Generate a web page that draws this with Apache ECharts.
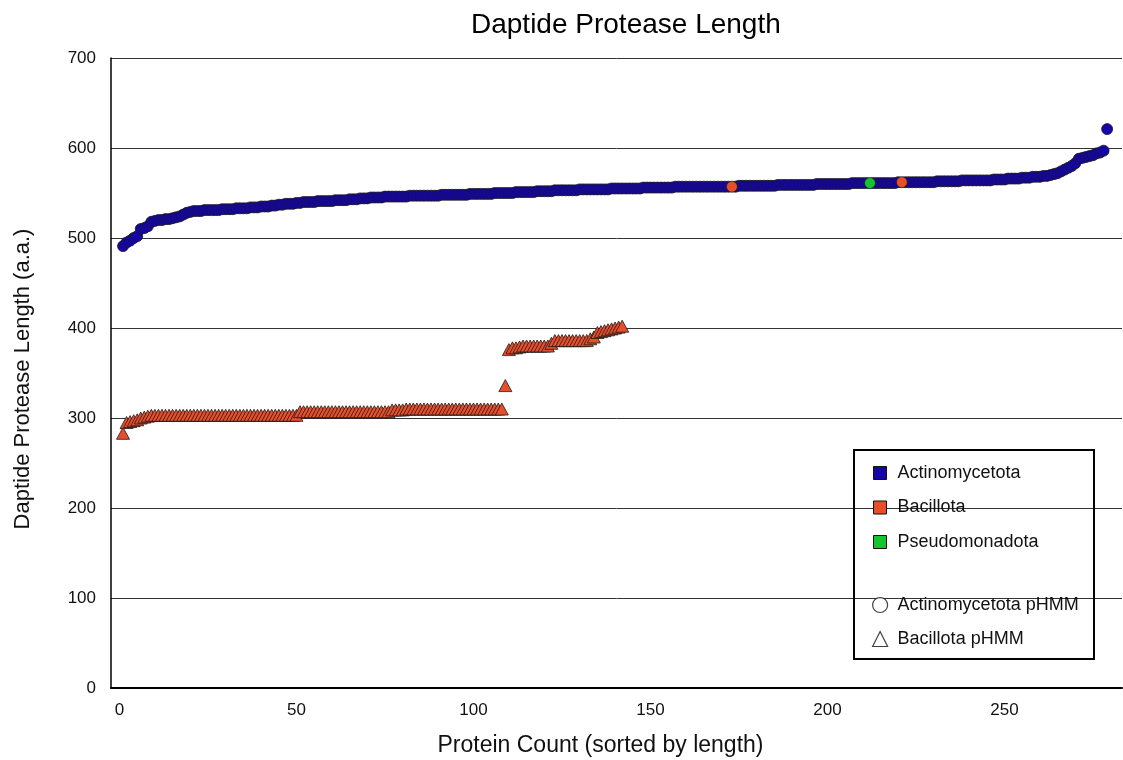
<!DOCTYPE html>
<html>
<head>
<meta charset="utf-8">
<script src="https://cdn.jsdelivr.net/npm/echarts@6/dist/echarts.min.js"></script>
<style>
  html, body { margin: 0; padding: 0; background: #fff; }
  #chart { width: 1123px; height: 760px; }
</style>
</head>
<body>
<div id="chart"></div>
<script>
// circle markers (Actinomycetota pHMM hits), sorted by length, rank 1..279
const circleLengths = [
  491, 495, 497, 500, 502, 510, 511, 513, 518, 519, 520,
  520, 521, 521, 522, 523, 524, 526, 528, 529,
  530, 530, 530, 531, 531, 531, 531, 531, 532, 532,
  532, 532, 533, 533, 533, 533, 534, 534, 534, 535,
  535, 535, 536, 536, 537, 537, 538, 538, 538, 539,
  539, 540, 540, 540, 540, 541, 541, 541, 541, 541,
  542, 542, 542, 542, 543, 543, 543, 544, 544, 544,
  545, 545, 545, 545, 546, 546, 546, 546, 546, 546,
  546, 547, 547, 547, 547, 547, 547, 547, 547, 547,
  548, 548, 548, 548, 548, 548, 548, 548, 549, 549,
  549, 549, 549, 549, 549, 550, 550, 550, 550, 550,
  550, 551, 551, 551, 551, 551, 551, 552, 552, 552,
  552, 552, 553, 553, 553, 553, 553, 553, 553, 554,
  554, 554, 554, 554, 554, 554, 554, 554, 555, 555,
  555, 555, 555, 555, 555, 555, 555, 556, 556, 556,
  556, 556, 556, 556, 556, 556, 557, 557, 557, 557,
  557, 557, 557, 557, 557, 557, 557, 557, 557, 557,
  557, 557, 557, 557, 558, 558, 558, 558, 558, 558,
  558, 558, 558, 558, 558, 559, 559, 559, 559, 559,
  559, 559, 559, 559, 559, 559, 560, 560, 560, 560,
  560, 560, 560, 560, 560, 560, 561, 561, 561, 561,
  561, 561, 561, 561, 561, 561, 561, 561, 561, 562,
  562, 562, 562, 562, 562, 562, 562, 562, 562, 562,
  563, 563, 563, 563, 563, 563, 563, 564, 564, 564,
  564, 564, 564, 564, 564, 564, 565, 565, 565, 565,
  566, 566, 566, 566, 567, 567, 567, 568, 568, 568,
  569, 569, 570, 571, 572, 574, 576, 578, 580, 583,
  588, 589, 590, 591, 592, 594, 595, 597, 621
]
// ranks in the circle list that are not Actinomycetota
const bacillotaCircleRanks = [173, 221]
const pseudoCircleRanks = [212]

// triangle markers (Bacillota pHMM hits), rank 1..142
const triangleLengths = [
  283, 295, 296, 297, 298, 300, 301, 302,
  303, 303, 303, 303, 303, 303, 303, 303, 303, 303,
  303, 303, 303, 303, 303, 303, 303, 303, 303, 303,
  303, 303, 303, 303, 303, 303, 303, 303, 303, 303,
  303, 303, 303, 303, 303, 303, 303, 303, 303, 303,
  303, 303,
  307, 307, 307, 307, 307, 307, 307, 307, 307, 307,
  307, 307, 307, 307, 307, 307, 307, 307, 307, 307,
  307, 307, 307, 307, 307, 307,
  309, 309, 309, 309, 310, 310, 310, 310, 310, 310,
  310, 310, 310, 310, 310, 310, 310, 310, 310, 310,
  310, 310, 310, 310, 310, 310, 310, 310, 310, 310,
  310, 310,
  336, 376, 378, 378, 379,
  380, 380, 380, 380, 380, 380, 380, 380,
  383,
  386, 386, 386, 386, 386, 386, 386, 386, 386, 386,
  388, 390,
  395, 396, 397, 398, 399, 400, 401, 402
]

const xLabels = [0, 50, 100, 150, 200, 250]

const BLUE = '#1404aa'
const ORANGE = '#e94e2b'
const GREEN = '#16c430'
const FONT = 'Liberation Sans, Arial, sans-serif'

const actinoData = []
const bacCircleData = []
const pseudoData = []
circleLengths.forEach((v, i) => {
  const rank = i + 1
  if (bacillotaCircleRanks.includes(rank)) bacCircleData.push([rank, v])
  else if (pseudoCircleRanks.includes(rank)) pseudoData.push([rank, v])
  else actinoData.push([rank, v])
})
const triangleData = triangleLengths.map((v, i) => [i + 1, v])

const markerBorder = { borderColor: '#1a1a1a', borderWidth: 0.8 }
const legendText = { fontFamily: FONT, fontSize: 18, color: '#111', lineHeight: 16, padding: [0, 0, 0, 6] }

const option = {
  animation: false,
  title: {
    text: 'Daptide Protease Length',
    left: 466,
    top: 6,
    textStyle: { fontFamily: FONT, fontSize: 28, fontWeight: 'normal', color: '#000' }
  },
  grid: { left: 111, right: 1, top: 58, bottom: 72, outerBoundsMode: 'none', containLabel: false },
  legend: [
    {
      orient: 'vertical',
      left: 873,
      top: 464,
      padding: 0,
      itemWidth: 13,
      itemHeight: 13,
      itemGap: 16.5,
      selectedMode: false,
      textStyle: legendText,
      data: [
        { name: 'Actinomycetota', icon: 'rect', itemStyle: { color: BLUE, borderColor: '#111', borderWidth: 1 } },
        { name: 'Bacillota', icon: 'rect', itemStyle: { color: ORANGE, borderColor: '#111', borderWidth: 1 } },
        { name: 'Pseudomonadota', icon: 'rect', itemStyle: { color: GREEN, borderColor: '#111', borderWidth: 1 } }
      ]
    },
    {
      orient: 'vertical',
      left: 872,
      top: 596,
      padding: 0,
      itemWidth: 15,
      itemHeight: 15,
      itemGap: 16,
      selectedMode: false,
      textStyle: { ...legendText, padding: [0, 0, 0, 5] },
      data: [
        { name: 'Actinomycetota pHMM', icon: 'circle', itemStyle: { color: '#fff', borderColor: '#111', borderWidth: 1.2 } },
        { name: 'Bacillota pHMM', icon: 'triangle', itemStyle: { color: '#fff', borderColor: '#111', borderWidth: 1.2 } }
      ]
    }
  ],
  graphic: [
    {
      type: 'rect',
      left: 853,
      top: 449,
      shape: { width: 240, height: 209 },
      style: { fill: 'rgba(255,255,255,0)', stroke: '#000', lineWidth: 2 },
      z: 100
    }
  ],
  xAxis: {
    type: 'value',
    min: -2.4,
    max: 283.2,
    name: 'Protein Count (sorted by length)',
    nameLocation: 'middle',
    nameGap: 46,
    nameTextStyle: { fontFamily: FONT, fontSize: 23, color: '#111', padding: [0, 32, 0, 0] },
    axisLine: { show: true, onZero: false, lineStyle: { color: '#000', width: 2 } },
    axisTick: { show: false },
    splitLine: { show: false },
    axisLabel: {
      customValues: xLabels,
      margin: 14,
      fontFamily: FONT,
      fontSize: 17,
      color: '#111'
    }
  },
  yAxis: {
    type: 'value',
    min: 0,
    max: 700,
    interval: 100,
    name: 'Daptide Protease Length (a.a.)',
    nameLocation: 'middle',
    nameRotate: 90,
    nameGap: 77,
    nameTextStyle: { fontFamily: FONT, fontSize: 22, color: '#111', padding: [0, 12, 0, 0] },
    axisLine: { show: true, onZero: false, lineStyle: { color: '#000', width: 1.5 } },
    axisTick: { show: false },
    splitLine: { show: true, lineStyle: { color: '#333', width: 1 } },
    axisLabel: { margin: 15, fontFamily: FONT, fontSize: 17, color: '#111' }
  },
  series: [
    {
      name: 'Bacillota',
      type: 'scatter',
      symbol: 'triangle',
      symbolSize: [13, 12],
      itemStyle: { color: ORANGE, ...markerBorder, opacity: 1 },
      data: triangleData,
      z: 2
    },
    {
      name: 'Actinomycetota',
      type: 'scatter',
      symbol: 'circle',
      symbolSize: 11,
      itemStyle: { color: BLUE, ...markerBorder, opacity: 1 },
      data: actinoData,
      z: 2
    },
    {
      name: 'Bacillota',
      type: 'scatter',
      symbol: 'circle',
      symbolSize: 11,
      itemStyle: { color: ORANGE, ...markerBorder, opacity: 1 },
      data: bacCircleData,
      z: 3
    },
    {
      name: 'Pseudomonadota',
      type: 'scatter',
      symbol: 'circle',
      symbolSize: 11,
      itemStyle: { color: GREEN, ...markerBorder, opacity: 1 },
      data: pseudoData,
      z: 3
    },
    { name: 'Actinomycetota pHMM', type: 'scatter', data: [] },
    { name: 'Bacillota pHMM', type: 'scatter', data: [] }
  ]
}

const myChart = echarts.init(document.getElementById('chart'))
myChart.setOption(option)
</script>
</body>
</html>
